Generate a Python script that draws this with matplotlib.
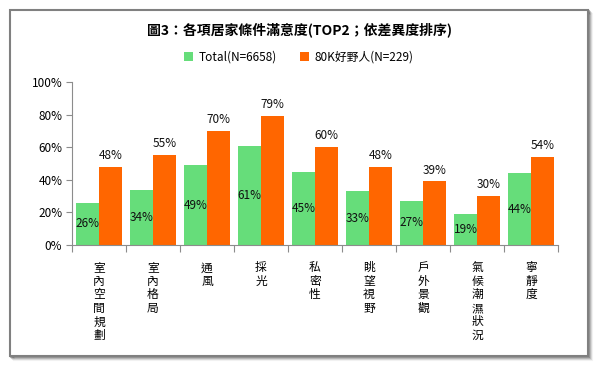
import matplotlib
matplotlib.use("Agg")
import matplotlib.pyplot as plt
import numpy as np
from matplotlib.patches import Rectangle

plt.rcParams['font.family'] = ['Noto Sans CJK TC', 'DejaVu Sans']

categories = ["室內空間規劃", "室內格局", "通風", "採光", "私密性", "眺望視野", "戶外景觀", "氣候潮濕狀況", "寧靜度"]
total = [26, 34, 49, 61, 45, 33, 27, 19, 44]
rich = [48, 55, 70, 79, 60, 48, 39, 30, 54]
series_names = ["Total(N=6658)", "80K好野人(N=229)"]
yticks = [0, 20, 40, 60, 80, 100]
title = "圖3：各項居家條件滿意度(TOP2；依差異度排序)"

green = "#66DD7A"
orange = "#FF6600"
axis_gray = "#8C8C8C"

fig = plt.figure(figsize=(5.98, 3.68), dpi=100)

# frame with shadow
for i, a in enumerate([0.05, 0.1, 0.18, 0.28]):
    off = (4 - i) / 598
    fig.patches.append(Rectangle((10/598 + off, 12/368 - off*598/368), 578/598, 346/368,
                                 transform=fig.transFigure, facecolor="none",
                                 edgecolor=(0, 0, 0, a), lw=1.5, zorder=0))
fig.patches.append(Rectangle((10/598, 12/368), 578/598, 346/368, transform=fig.transFigure,
                             facecolor="white", edgecolor="#808080", lw=1.5, zorder=1))

ax = fig.add_axes([72/598, 1 - 245/368, 486/598, 163/368])
ax.set_zorder(2)
ax.patch.set_alpha(0)

x = np.arange(len(categories))
w = 0.42
b1 = ax.bar(x - w/2, total, w, color=green, label=series_names[0], zorder=2)
b2 = ax.bar(x + w/2, rich, w, color=orange, label=series_names[1], zorder=2)

for xi, v in zip(x, total):
    ax.text(xi - w/2, v/2, f"{v}%", ha="center", va="center", fontsize=8.5, color="#111111", zorder=3)
for xi, v in zip(x, rich):
    ax.text(xi + w/2, v + 3, f"{v}%", ha="center", va="bottom", fontsize=8.5, color="#111111", zorder=3)

ax.set_xlim(-0.5, len(categories) - 0.5)
ax.set_ylim(0, 100)
ax.set_yticks(yticks)
ax.set_yticklabels([f"{t}%" for t in yticks], fontsize=8.5)
ax.set_xticks(np.arange(len(categories) + 1) - 0.5)
ax.set_xticklabels([])
ax.tick_params(axis="x", direction="out", length=5, color=axis_gray)
ax.tick_params(axis="y", direction="out", length=4, color=axis_gray, pad=3)
for s in ["top", "right"]:
    ax.spines[s].set_visible(False)
for s in ["left", "bottom"]:
    ax.spines[s].set_color(axis_gray)

for xi, c in zip(x, categories):
    ax.text(xi, -10, "\n".join(c), ha="center", va="top", fontsize=8.5,
            linespacing=1.05, transform=ax.transData, clip_on=False)

fig.text(0.5, 1 - 30/368, title, ha="center", va="center", fontsize=10, fontweight="bold")

leg = fig.legend(handles=[b1, b2], loc="center", bbox_to_anchor=(0.5, 1 - 57/368), ncol=2,
                 frameon=False, fontsize=8.5, handlelength=0.7, handleheight=0.7,
                 columnspacing=2.0, handletextpad=0.5)

fig.savefig("out.png", dpi=100)
